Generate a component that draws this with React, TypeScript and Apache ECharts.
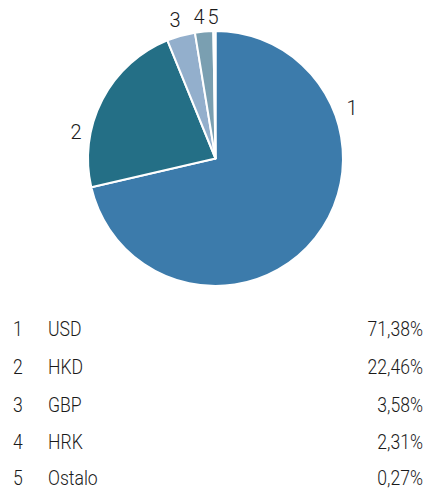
import React, { useEffect, useRef } from "react";
import * as echarts from "echarts";

const ids = ["1", "2", "3", "4", "5"];
const currencies = ["USD", "HKD", "GBP", "HRK", "Ostalo"];
const shares = [71.38, 22.46, 3.58, 2.31, 0.27];
const percentLabels = ["71,38%", "22,46%", "3,58%", "2,31%", "0,27%"];
const colors = ["#3c7bab", "#246f86", "#93afcc", "#7a9fb1", "#c9d7e2"];

// label anchor points (as in the reference layout)
const labelX = [352, 76, 175, 199, 213];
const labelY = [108, 132, 20, 17, 17];

const FONT = "Roboto, 'Liberation Sans', sans-serif";
const TEXT = "#1a1a1a";

export default function App() {
  const ref = useRef<HTMLDivElement>(null);
  useEffect(() => {
    if (!ref.current) return;
    const chart = echarts.init(ref.current, undefined, { renderer: "svg" });
    const rowY = [330, 368, 406, 443, 479];
    const graphics: any[] = [];
    const SX = 0.88;
    const mk = (x: number, y: number, text: string, align: string) => ({
      type: "text",
      x,
      y,
      scaleX: SX,
      style: {
        text,
        font: `300 20px ${FONT}`,
        fill: TEXT,
        align,
        verticalAlign: "middle",
        lineHeight: 16,
      },
    });
    ids.forEach((id, i) => {
      graphics.push(mk(13, rowY[i], id, "left"));
      graphics.push(mk(48, rowY[i], currencies[i], "left"));
      graphics.push(mk(423, rowY[i], percentLabels[i], "right"));
    });
    chart.setOption({
      animation: false,
      color: colors,
      series: [
        {
          type: "pie",
          center: [215.5, 158.5],
          radius: [0, 127.5],
          startAngle: 90,
          clockwise: true,
          data: shares.map((v, i) => ({ name: ids[i], value: v })),
          itemStyle: { borderColor: "#ffffff", borderWidth: 2 },
          label: {
            show: true,
            position: "outside",
            formatter: "{b}",
            fontFamily: FONT,
            fontWeight: 300,
            fontSize: 20,
            color: TEXT,
          },
          labelLine: { show: false },
          labelLayout: (p: any) => ({
            x: labelX[p.dataIndex],
            y: labelY[p.dataIndex],
            align: "center",
            verticalAlign: "middle",
          }),
          emphasis: { disabled: true },
        },
      ],
      graphic: graphics,
    });
    return () => chart.dispose();
  }, []);
  return (
    <div
      ref={ref}
      style={{ position: "absolute", left: 0, top: 0, width: 424, height: 490 }}
    />
  );
}
